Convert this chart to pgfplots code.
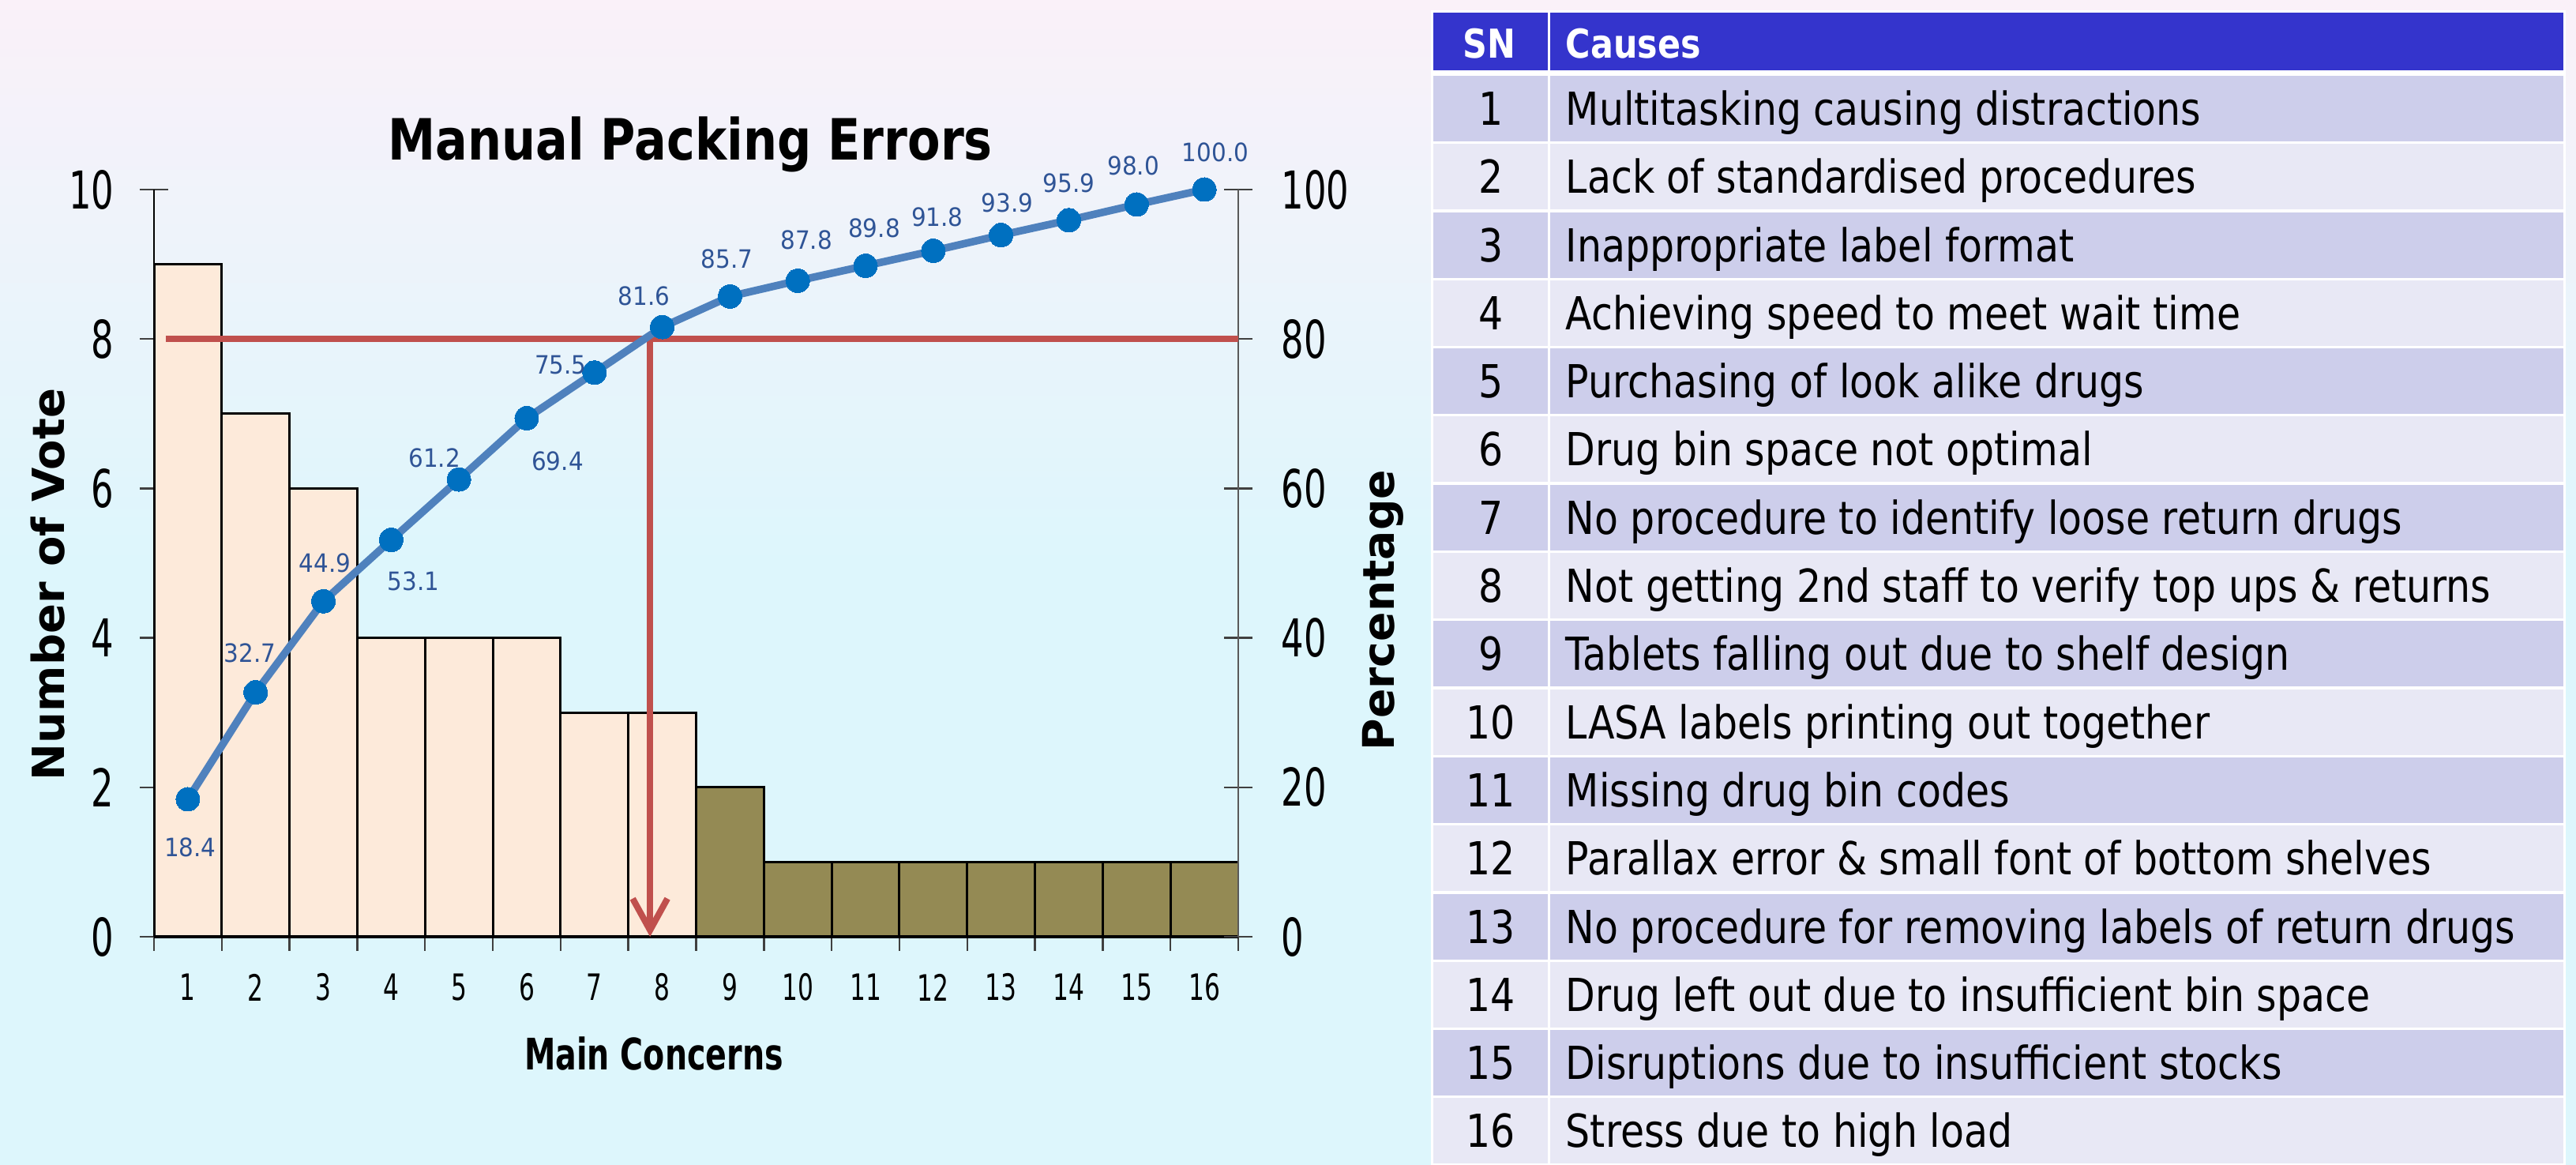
\documentclass[border=0pt]{standalone}
\usepackage{fontspec}
\setmainfont{DejaVu Sans}
\newfontfamily\tickfont{DejaVu Sans}[FakeStretch=0.68]
\newfontfamily\mcfont{DejaVu Sans}[FakeStretch=0.72]
\newfontfamily\titlefont{DejaVu Sans}[FakeStretch=0.84]
\newfontfamily\labfont{DejaVu Sans}[FakeStretch=0.92]
\newfontfamily\tabfont{DejaVu Sans}[FakeStretch=0.85]
\usepackage{pgfplots}
\pgfplotsset{compat=1.18}
\usepackage{pgfplotstable}
\usetikzlibrary{arrows.meta}

\definecolor{peach}{HTML}{FDEADA}
\definecolor{olivebar}{HTML}{948A54}
\definecolor{cumline}{HTML}{4F81BD}
\definecolor{cummark}{HTML}{0070C0}
\definecolor{lablue}{HTML}{2F5496}
\definecolor{redl}{HTML}{C0504D}
\definecolor{hdr}{HTML}{3434CC}
\definecolor{rowA}{HTML}{CDCEEB}
\definecolor{rowB}{HTML}{E8E8F5}
\definecolor{bgtop}{HTML}{FAF1F9}
\definecolor{bgbot}{HTML}{DDF6FC}

\pgfplotstableread{
i v
1 9
2 7
3 6
4 4
5 4
6 4
7 3
8 3
}\vitalfew

\pgfplotstableread{
i v
9 2
10 1
11 1
12 1
13 1
14 1
15 1
16 1
}\trivialmany

\pgfplotstableread{
i p lab dx up
1 18.4 18.4 3 -61
2 32.7 32.7 -7 50
3 44.9 44.9 2 48
4 53.1 53.1 28 -52
5 61.2 61.2 -31 27
6 69.4 69.4 39 -54
7 75.5 75.5 -43 10
8 81.6 81.6 -23 39
9 85.7 85.7 -4 47
10 87.8 87.8 11 52
11 89.8 89.8 11 48
12 91.8 91.8 5 43
13 93.9 93.9 8 41
14 95.9 95.9 0 47
15 98.0 98.0 -4 49
16 100.0 100.0 14 47
}\cum

\begin{document}
\begin{tikzpicture}
\path[use as bounding box] (0pt,0pt) rectangle (815.5pt,368.75pt);
\fill[bgbot] (0pt,0pt) rectangle (815.5pt,368.75pt);
\shade[top color=bgtop, bottom color=bgbot] (0pt,190pt) rectangle (815.5pt,368.75pt);

% ---------- table ----------
\fill[white] (453pt,0pt) rectangle (812.25pt,365.5pt);
\fill[hdr] (453.75pt,346.5pt) rectangle (490pt,364.75pt);
\fill[hdr] (490.75pt,346.5pt) rectangle (811.5pt,364.75pt);
\node[anchor=base, inner sep=0pt, text=white, font=\tabfont\bfseries\fontsize{12.6}{12.6}\selectfont] at (471.5pt,350.25pt) {SN};
\node[anchor=base west, inner sep=0pt, text=white, font=\tabfont\bfseries\fontsize{12.6}{12.6}\selectfont] at (495.5pt,350.25pt) {Causes};
\foreach \k/\t in {1/Multitasking causing distractions,
2/Lack of standardised procedures,
3/Inappropriate label format,
4/Achieving speed to meet wait time,
5/Purchasing of look alike drugs,
6/Drug bin space not optimal,
7/No procedure to identify loose return drugs,
8/Not getting 2nd staff to verify top ups \& returns,
9/Tablets falling out due to shelf design,
10/LASA labels printing out together,
11/Missing drug bin codes,
12/Parallax error \& small font of bottom shelves,
13/No procedure for removing labels of return drugs,
14/Drug left out due to insufficient bin space,
15/Disruptions due to insufficient stocks,
16/Stress due to high load}{
  \pgfmathsetmacro\yc{334.375-(\k-1)*21.575}
  \ifodd\k\relax \def\rc{rowA}\else \def\rc{rowB}\fi
  \fill[fill=\rc] (453.75pt,\yc pt-10.375pt) rectangle (490pt,\yc pt+10.375pt);
  \fill[fill=\rc] (490.75pt,\yc pt-10.375pt) rectangle (811.5pt,\yc pt+10.375pt);
  \node[anchor=base, inner sep=0pt, font=\tabfont\fontsize{14.4}{14.4}\selectfont] at (471.9pt,\yc pt-5.25pt) {\k};
  \node[anchor=base west, inner sep=0pt, font=\tabfont\fontsize{14.4}{14.4}\selectfont] at (495.5pt,\yc pt-5.25pt) {\t};
}

% ---------- bars ----------
\begin{axis}[
  at={(48.75pt,72.25pt)}, anchor=south west, scale only axis,
  width=343.25pt, height=236.5pt,
  xmin=0.5, xmax=16.5, ymin=0, ymax=10,
  axis x line*=bottom, axis y line*=left,
  x axis line style={line width=1pt, black, -},
  y axis line style={line width=0.5pt, black, -},
  /pgf/number format/assume math mode=true,
  xtick={0.5,1.5,...,16.5}, xticklabels={},
  extra x ticks={1,2,...,16},
  extra x tick style={major tick length=0pt},
  ytick={0,2,...,10},
  tick align=center, major tick length=9pt,
  tick style={black!75, line width=0.6pt},
  yticklabel style={font=\tickfont\fontsize{16.5}{16.5}\selectfont, anchor=east, inner sep=0pt, xshift=-8pt},
  xticklabel style={font=\tickfont\fontsize{11.5}{11.5}\selectfont, anchor=center, inner sep=0pt, yshift=-16pt},
]
\addplot[ybar, bar width=1, bar shift=0pt, fill=peach, draw=black, line width=0.75pt] table[x=i,y=v] {\vitalfew};
\addplot[ybar, bar width=1, bar shift=0pt, fill=olivebar, draw=black, line width=0.75pt] table[x=i,y=v] {\trivialmany};
\end{axis}

% ---------- cumulative ----------
\begin{axis}[
  at={(48.75pt,72.25pt)}, anchor=south west, scale only axis,
  width=343.25pt, height=236.5pt,
  xmin=0.5, xmax=16.5, ymin=0, ymax=100,
  axis x line=none, axis y line*=right,
  y axis line style={line width=0.5pt, black!65, -},
  /pgf/number format/assume math mode=true,
  ytick={0,20,...,100},
  tick align=center, major tick length=9pt,
  tick style={black!75, line width=0.6pt},
  yticklabel style={font=\tickfont\fontsize{16.5}{16.5}\selectfont, anchor=west, inner sep=0pt, xshift=9pt},
  clip=false,
]
\addplot[redl, line width=2pt] coordinates {(0.675,80) (16.5,80)};
\addplot[redl, line width=2pt, -{Straight Barb[length=10pt,width=11pt]}] coordinates {(7.82,80) (7.82,0)};
\addplot[cumline, line width=2.4pt, mark=*, mark size=3.75pt,
  mark options={solid, fill=cummark, draw=cummark, line width=0pt},
  point meta=explicit symbolic,
  visualization depends on={\thisrow{dx} \as \dx},
  visualization depends on={\thisrow{up} \as \up},
  nodes near coords,
  nodes near coords style={font=\labfont\fontsize{8}{8}\selectfont, text=lablue, anchor=center, inner sep=0pt, xshift={\dx*0.25pt}, yshift={\up*0.25pt}},
] table[x=i, y=p, meta=lab] {\cum};
\end{axis}

% ---------- titles ----------
\node[anchor=base, font=\titlefont\bfseries\fontsize{18}{18}\selectfont] at (218.5pt,318pt) {Manual Packing Errors};
\node[anchor=base, font=\mcfont\bfseries\fontsize{13.75}{13.75}\selectfont] at (207pt,30pt) {Main Concerns};
\node[rotate=90, anchor=base, inner sep=0pt, font=\bfseries\fontsize{14}{14}\selectfont] at (20.5pt,183.75pt) {Number of Vote};
\node[rotate=90, anchor=base, inner sep=0pt, font=\bfseries\fontsize{13.8}{13.8}\selectfont] at (441.25pt,175.6pt) {Percentage};
\end{tikzpicture}
\end{document}
